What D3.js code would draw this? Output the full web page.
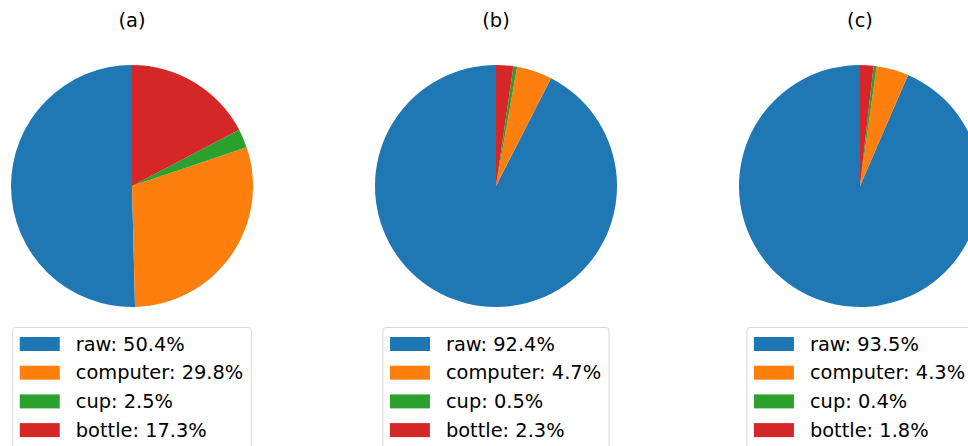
<!DOCTYPE html>
<html>
<head>
<meta charset="utf-8">
<script src="https://cdn.jsdelivr.net/npm/d3@7"></script>
<style>
  html, body { margin: 0; padding: 0; background: #fff; }
  svg { display: block; }
  text { font-family: "DejaVu Sans", sans-serif; fill: #000; }
</style>
</head>
<body>
<svg id="chart" width="968" height="446"></svg>
<script>
// Category names and colours shared by all three pies
const categories = ["raw", "computer", "cup", "bottle"];
const colors = ["#1f77b4", "#ff7f0e", "#2ca02c", "#d62728"];

// Panel titles
const titles = ["(a)", "(b)", "(c)"];

// Percentage share per category, one array per panel
const valuesA = [50.4, 29.8, 2.5, 17.3];
const valuesB = [92.4, 4.7, 0.5, 2.3];
const valuesC = [93.5, 4.3, 0.4, 1.8];
const panels = [valuesA, valuesB, valuesC];

const svg = d3.select("#chart");
const fontSize = "19.4px";

// Horizontal placement of the three panels
const xPanel = d3.scalePoint().domain(d3.range(panels.length)).range([132, 860]);
const cy = 186;
const radius = 121;

// Wedges start at 12 o'clock and run counter-clockwise
const pie = d3.pie().sort(null).value(d => d).startAngle(0).endAngle(-2 * Math.PI);
const arc = d3.arc().innerRadius(0).outerRadius(radius);

panels.forEach((vals, i) => {
  const cx = xPanel(i);
  const g = svg.append("g");

  g.append("text")
    .attr("x", cx).attr("y", 20)
    .attr("text-anchor", "middle")
    .attr("dominant-baseline", "central")
    .style("font-size", fontSize)
    .text(titles[i]);

  const pg = g.append("g").attr("transform", `translate(${cx},${cy})`);
  pg.selectAll("path")
    .data(pie(vals))
    .join("path")
    .attr("d", arc)
    .attr("fill", (d, j) => colors[j]);

  // Legend below the pie
  const lg = g.append("g");
  const box = lg.append("rect");
  const rowY = d3.scaleLinear().domain([0, 1]).range([344, 372.7]);
  const items = lg.selectAll("g.item")
    .data(categories)
    .join("g")
    .attr("class", "item");
  items.append("rect")
    .attr("width", 40).attr("height", 14)
    .attr("y", (d, j) => rowY(j) - 7)
    .attr("fill", (d, j) => colors[j]);
  const labels = items.append("text")
    .attr("x", 56)
    .attr("y", (d, j) => rowY(j))
    .attr("dominant-baseline", "central")
    .style("font-size", fontSize)
    .text((d, j) => `${d}: ${vals[j].toFixed(1)}%`);

  let maxW = 0;
  labels.each(function () { maxW = Math.max(maxW, this.getComputedTextLength()); });
  const boxW = 7 + 56 + maxW + 8;
  const left = cx - boxW / 2;
  items.attr("transform", `translate(${left + 7},0)`);
  box.attr("x", left).attr("y", 327.5)
    .attr("width", boxW).attr("height", 130)
    .attr("rx", 3).attr("ry", 3)
    .attr("fill", "#fff").attr("fill-opacity", 0.8)
    .attr("stroke", "#d9d9d9").attr("stroke-width", 1);
});
</script>
</body>
</html>
